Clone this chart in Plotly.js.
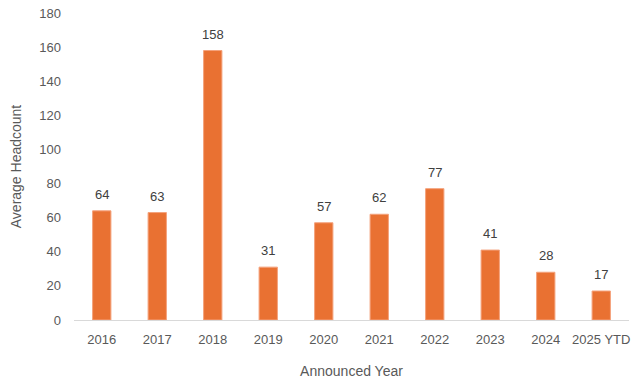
<!DOCTYPE html>
<html>
<head>
<meta charset="utf-8">
<script src="https://cdn.plot.ly/plotly-3.0.1.min.js"></script>
<style>html,body{margin:0;padding:0;background:#fff;}#chart{width:643px;height:388px;}</style>
</head>
<body>
<div id="chart"></div>
<script>
const years = ["2016","2017","2018","2019","2020","2021","2022","2023","2024","2025 YTD"];
const headcount = [64, 63, 158, 31, 57, 62, 77, 41, 28, 17];
const yTicks = [0,20,40,60,80,100,120,140,160,180];

const font = {family: "Liberation Sans, Arial, sans-serif", size: 13, color: "#595959"};

const trace = {
  type: "bar",
  x: years,
  y: headcount,
  marker: {color: "#E97132", line: {color: "#F4A27C", width: 1}},
  hoverinfo: "x+y"
};

const annotations = years.map((yr, i) => ({
  x: i, y: headcount[i], text: String(headcount[i]),
  xref: "x", yref: "y", showarrow: false, yanchor: "bottom", yshift: 7,
  font: {family: font.family, size: 13, color: "#404040"}
}));

const layout = {
  width: 643, height: 388,
  margin: {l: 74, r: 14, t: 13, b: 68},
  paper_bgcolor: "#fff", plot_bgcolor: "#fff",
  font: font,
  bargap: 0.67,
  showlegend: false,
  xaxis: {
    type: "category",
    range: [-0.5, years.length - 0.5],
    showline: true, linecolor: "#D9D9D9", linewidth: 1,
    ticks: "", showgrid: false, zeroline: false,
    ticklabelstandoff: 7,
    tickfont: font,
    title: {text: "Announced Year", font: {family: font.family, size: 14, color: "#595959"}, standoff: 20}
  },
  yaxis: {
    range: [0, 180],
    tickvals: yTicks,
    showgrid: false, zeroline: false, showline: false, ticks: "",
    ticklabelstandoff: 12,
    tickfont: font,
    title: {text: "Average Headcount", font: {family: font.family, size: 14, color: "#595959"}, standoff: 14}
  },
  annotations: annotations
};

Plotly.newPlot("chart", [trace], layout, {displayModeBar: false, staticPlot: true});
</script>
</body>
</html>
